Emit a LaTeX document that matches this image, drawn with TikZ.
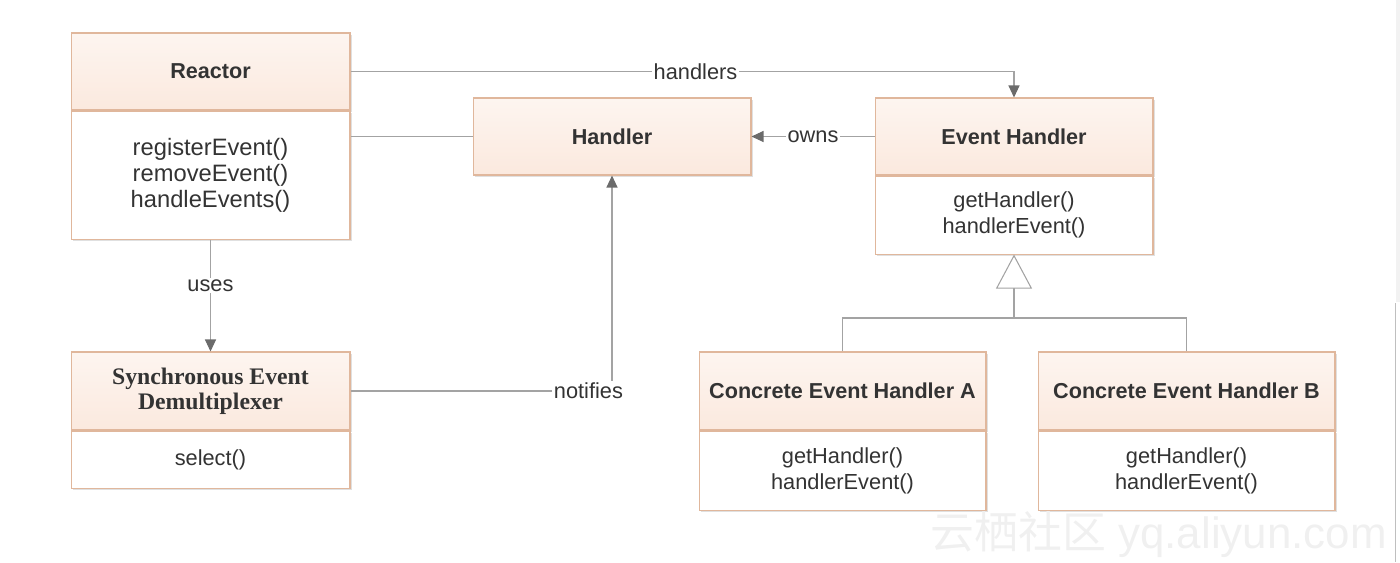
\documentclass[tikz,border=0pt]{standalone}
\usepackage{fontspec}
\setmainfont{Liberation Sans}
\newfontfamily\serifkopf{Liberation Serif}
\newfontfamily\cjk{Noto Sans CJK SC}
\usetikzlibrary{arrows.meta,positioning,shadows}
\definecolor{rand}{HTML}{E0B79C}
\definecolor{kopf}{HTML}{FBE9DE}
\definecolor{kopfh}{HTML}{FDF5F0}
\definecolor{grau}{HTML}{A3A3A3}
\definecolor{spitze}{HTML}{6B6B6B}
\definecolor{schrift}{HTML}{333333}
\tikzset{
  schatten/.style={drop shadow={shadow xshift=1.2pt,shadow yshift=-1.2pt,opacity=0.12,fill=black}},
  kopfbox/.style={draw=rand,line width=0.6pt,top color=kopfh,bottom color=kopf,text=schrift,
    font=\bfseries\fontsize{12.3}{14.7}\selectfont,minimum height=1.54cm,inner sep=0pt,align=center,schatten},
  rumpf/.style={draw=rand,line width=0.6pt,fill=white,text=schrift,
    font=\fontsize{12.4}{14.7}\selectfont,inner sep=0pt,align=center,schatten},
  verb/.style={grau,line width=0.6pt},
  pfeil/.style={-{Triangle[length=2.4mm,width=2.2mm,color=spitze]},grau,line width=0.6pt},
  erbe/.style={-{Triangle[open,length=6.8mm,width=7.2mm,fill=white]},grau,line width=0.6pt},
  lbl/.style={fill=white,text=schrift,font=\fontsize{12.4}{14.7}\selectfont,inner sep=1pt},
}
\begin{document}
\begin{tikzpicture}[x=0.02cm,y=-0.02cm]
  \useasboundingbox (0,0) rectangle (1400,562);
  % Klassen
  \node[kopfbox,minimum width=5.58cm] (reactor) at (210.5,71.5) {Reactor};
  \node[rumpf,minimum width=5.58cm,minimum height=2.56cm,below=0pt of reactor,
    font=\fontsize{13.5}{14.7}\selectfont] (reactorb)
    {registerEvent()\\removeEvent()\\handleEvents()};
  \node[kopfbox,minimum width=5.56cm] (handler) at (612,136.5) {Handler};
  \node[kopfbox,minimum width=5.56cm] (evh) at (1014,136.5) {Event Handler};
  \node[rumpf,minimum width=5.56cm,minimum height=1.56cm,below=0pt of evh] (evhb)
    {getHandler()\\handlerEvent()};
  \node[kopfbox,minimum width=5.58cm,minimum height=1.56cm,
    font=\serifkopf\bfseries\fontsize{13.5}{14.3}\selectfont] (sync) at (210.5,391)
    {Synchronous Event\\Demultiplexer};
  \node[rumpf,minimum width=5.58cm,minimum height=1.14cm,below=0pt of sync] (syncb) {select()};
  \node[kopfbox,minimum width=5.74cm,minimum height=1.56cm] (cona) at (842.5,391)
    {Concrete Event Handler A};
  \node[rumpf,minimum width=5.74cm,minimum height=1.58cm,below=0pt of cona] (conab)
    {getHandler()\\handlerEvent()};
  \node[kopfbox,minimum width=5.94cm,minimum height=1.56cm] (conb) at (1186.5,391)
    {Concrete Event Handler B};
  \node[rumpf,minimum width=5.94cm,minimum height=1.58cm,below=0pt of conb] (conbb)
    {getHandler()\\handlerEvent()};
  % Beziehungen
  \draw[pfeil] (reactor.east) -- node[lbl,pos=0.52] {handlers} (reactor.east -| evh.north) -- (evh.north);
  \draw[verb] (handler.west -| reactorb.east) -- (handler.west);
  \draw[pfeil] (evh.west) -- node[lbl] {owns} (handler.east);
  \draw[pfeil] (reactorb.south) -- node[lbl,pos=0.41] {uses} (sync.north);
  \draw[pfeil] (sync.east) -- node[lbl,pos=0.91] {notifies} (sync.east -| handler.south) -- (handler.south);
  \coordinate (gabel) at (1014,318);
  \draw[verb] (cona.north) |- (gabel);
  \draw[verb] (conb.north) |- (gabel);
  \draw[erbe] (gabel) -- (evhb.south);
  % Rand und Wasserzeichen
  \fill[black!5] (1396,0) rectangle (1400,302);
  \draw[black!25,line width=0.5pt] (1395,303) -- (1395,562);
  \node[text=black!6,font=\fontsize{25}{25}\selectfont,anchor=base west,inner sep=0pt] (wz) at (930,548)
    {{\cjk 云栖社区} yq.aliyun.com};
\end{tikzpicture}
\end{document}
